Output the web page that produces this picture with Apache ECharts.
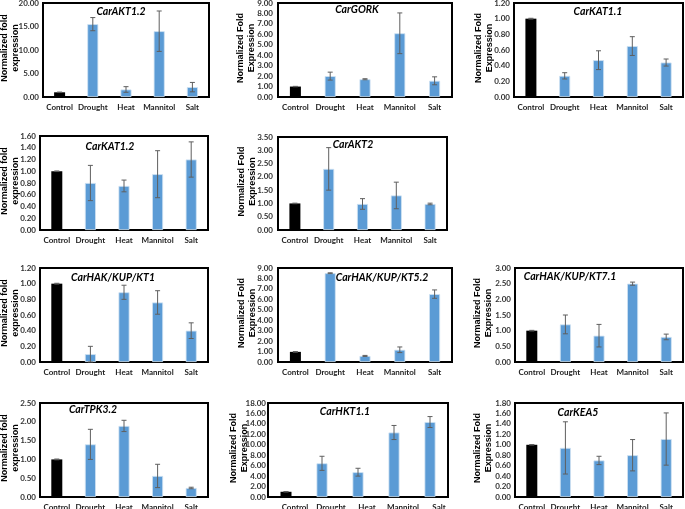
<!DOCTYPE html>
<html>
<head>
<meta charset="utf-8">
<script src="https://cdn.jsdelivr.net/npm/echarts@6/dist/echarts.min.js"></script>
<style>html,body{margin:0;padding:0;background:#fff}#c{width:685px;height:509px}</style>
</head>
<body>
<div id="c"></div>
<script>
// ---- data ----
const categories = ['Control', 'Drought', 'Heat', 'Mannitol', 'Salt'];

const akt12Values = [1.0, 15.5, 1.6, 14.0, 2.1];
const akt12Errors = [0.05, 1.4, 0.6, 4.3, 1.0];
const gorkValues = [1.0, 2.0, 1.7, 6.1, 1.55];
const gorkErrors = [0.02, 0.38, 0.05, 1.95, 0.38];
const kat11Values = [1.0, 0.27, 0.47, 0.65, 0.44];
const kat11Errors = [0.005, 0.04, 0.12, 0.12, 0.045];
const kat12Values = [1.0, 0.8, 0.75, 0.95, 1.2];
const kat12Errors = [0.005, 0.3, 0.1, 0.4, 0.3];
const akt2Values = [1.0, 2.3, 0.98, 1.3, 0.98];
const akt2Errors = [0.01, 0.8, 0.2, 0.5, 0.03];
const kt1Values = [1.0, 0.1, 0.89, 0.76, 0.4];
const kt1Errors = [0.005, 0.1, 0.09, 0.15, 0.1];
const kt52Values = [0.97, 8.5, 0.58, 1.17, 6.5];
const kt52Errors = [0.03, 0.04, 0.05, 0.27, 0.4];
const kt71Values = [1.0, 1.2, 0.84, 2.5, 0.8];
const kt71Errors = [0.01, 0.3, 0.36, 0.05, 0.09];
const tpk32Values = [1.0, 1.4, 1.89, 0.56, 0.24];
const tpk32Errors = [0.01, 0.4, 0.15, 0.31, 0.02];
const hkt11Values = [1.0, 6.45, 4.75, 12.35, 14.35];
const hkt11Errors = [0.05, 1.35, 0.75, 1.35, 1.05];
const kea5Values = [1.0, 0.94, 0.7, 0.8, 1.11];
const kea5Errors = [0.005, 0.5, 0.08, 0.3, 0.5];

const nameLower = 'Normalized fold\nexpression';
const nameUpper = 'Normalized Fold\nExpression';

const panels = [
  {title: 'CarAKT1.2', values: akt12Values, errors: akt12Errors, max: 20, interval: 5, yName: nameLower},
  {title: 'CarGORK', values: gorkValues, errors: gorkErrors, max: 9, interval: 1, yName: nameUpper},
  {title: 'CarKAT1.1', values: kat11Values, errors: kat11Errors, max: 1.2, interval: 0.2, yName: nameUpper},
  {title: 'CarKAT1.2', values: kat12Values, errors: kat12Errors, max: 1.6, interval: 0.2, yName: nameLower},
  {title: 'CarAKT2', values: akt2Values, errors: akt2Errors, max: 3.5, interval: 0.5, yName: nameUpper},
  {title: 'CarHAK/KUP/KT1', values: kt1Values, errors: kt1Errors, max: 1.2, interval: 0.2, yName: nameLower},
  {title: 'CarHAK/KUP/KT5.2', values: kt52Values, errors: kt52Errors, max: 9, interval: 1, yName: nameUpper},
  {title: 'CarHAK/KUP/KT7.1', values: kt71Values, errors: kt71Errors, max: 3, interval: 0.5, yName: nameUpper},
  {title: 'CarTPK3.2', values: tpk32Values, errors: tpk32Errors, max: 2.5, interval: 0.5, yName: nameLower},
  {title: 'CarHKT1.1', values: hkt11Values, errors: hkt11Errors, max: 18, interval: 2, yName: nameUpper},
  {title: 'CarKEA5', values: kea5Values, errors: kea5Errors, max: 1.8, interval: 0.2, yName: nameUpper}
];

// ---- layout (pixel boxes: left, top, right, bottom) ----
const boxes = [
  [43, 3, 209, 97], [278, 3, 452, 97], [514, 3, 683, 97],
  [40, 136, 208, 230], [278, 137, 447, 230],
  [40, 268, 208, 362], [278, 268, 452, 362], [515, 268, 683, 362],
  [40, 403, 208, 497], [268, 403, 448, 497], [515, 403, 683, 497]
];
const nameX = [10, 246, 484, 10, 247, 10, 247, 483, 10, 239, 483];
const yLabelMargin = [4, 5, 4, 4, 5, 4, 5, 4, 4, 2, 4];
const titlePos = [
  [121, 12], [357, 10], [598, 12], [110, 147], [353, 145],
  [113, 278], [382, 278], [570, 277], [93, 410], [345, 412], [578, 413]
];
const labelPad = [0, 0, 0, 0, 0, 0, 0, 0, 0, 18, 0];

const BLUE = '#5B9BD5';
const ERR = '#5f5f5f';

function renderErr(params, api) {
  const x = api.value(0);
  const lo = api.value(1);
  const hi = api.value(2);
  const pTop = api.coord([x, hi]);
  const pBot = api.coord([x, lo]);
  const hw = 2.5;
  const st = {stroke: ERR, lineWidth: 1};
  return {
    type: 'group',
    children: [
      {type: 'line', shape: {x1: pTop[0], y1: pTop[1], x2: pBot[0], y2: pBot[1]}, style: st},
      {type: 'line', shape: {x1: pTop[0] - hw, y1: pTop[1], x2: pTop[0] + hw, y2: pTop[1]}, style: st},
      {type: 'line', shape: {x1: pBot[0] - hw, y1: pBot[1], x2: pBot[0] + hw, y2: pBot[1]}, style: st}
    ]
  };
}

const grid = [], xAxis = [], yAxis = [], series = [], graphic = [];
panels.forEach((p, i) => {
  const b = boxes[i];
  grid.push({
    left: b[0], top: b[1], width: b[2] - b[0], height: b[3] - b[1],
    show: true, borderColor: '#000', borderWidth: 2, backgroundColor: 'transparent',
    containLabel: false, outerBoundsMode: 'none'
  });
  xAxis.push({
    type: 'category', gridIndex: i, data: categories,
    axisLine: {show: false}, axisTick: {show: false},
    axisLabel: {
      interval: 0, fontSize: 8, fontWeight: 'bold', color: '#222',
      fontFamily: 'Lato', margin: 6, padding: [0, 0, 0, labelPad[i]],
      overflow: 'none', hideOverlap: false
    }
  });
  yAxis.push({
    type: 'value', gridIndex: i, min: 0, max: p.max, interval: p.interval,
    axisLine: {show: false}, axisTick: {show: false}, splitLine: {show: false},
    axisLabel: {
      fontSize: 8, fontWeight: 'bold', color: '#333', fontFamily: 'Lato', margin: yLabelMargin[i],
      showMinLabel: true, showMaxLabel: true, hideOverlap: false, overflow: 'none',
      formatter: v => Number(v).toFixed(2)
    }
  });
  series.push({
    type: 'bar', xAxisIndex: i, yAxisIndex: i, barWidth: 11,
    data: p.values.map((v, k) => ({
      value: v,
      itemStyle: k === 0 ? {color: '#000'} : {color: BLUE, borderColor: '#cfe2f3', borderWidth: 0.8}
    })),
    animation: false, z: 2
  });
  series.push({
    type: 'custom', xAxisIndex: i, yAxisIndex: i, renderItem: renderErr,
    data: p.values.map((v, k) => [k, Math.max(0, v - p.errors[k]), v + p.errors[k]]),
    encode: {x: 0, y: [1, 2]}, animation: false, z: 3, silent: true
  });
  graphic.push({
    type: 'text', x: titlePos[i][0], y: titlePos[i][1], z: 10,
    style: {
      text: p.title, fill: '#000', align: 'center', verticalAlign: 'middle',
      font: 'italic bold 10.5px Lato'
    }
  });
  graphic.push({
    type: 'text', x: nameX[i], y: (b[1] + b[3]) / 2 - 2, rotation: Math.PI / 2, z: 10,
    style: {
      text: p.yName, fill: '#000', align: 'center', verticalAlign: 'middle',
      font: 'bold 9px "Liberation Sans"', lineHeight: 11
    }
  });
});

const chart = echarts.init(document.getElementById('c'));
chart.setOption({animation: false, grid, xAxis, yAxis, series, graphic});
</script>
</body>
</html>
